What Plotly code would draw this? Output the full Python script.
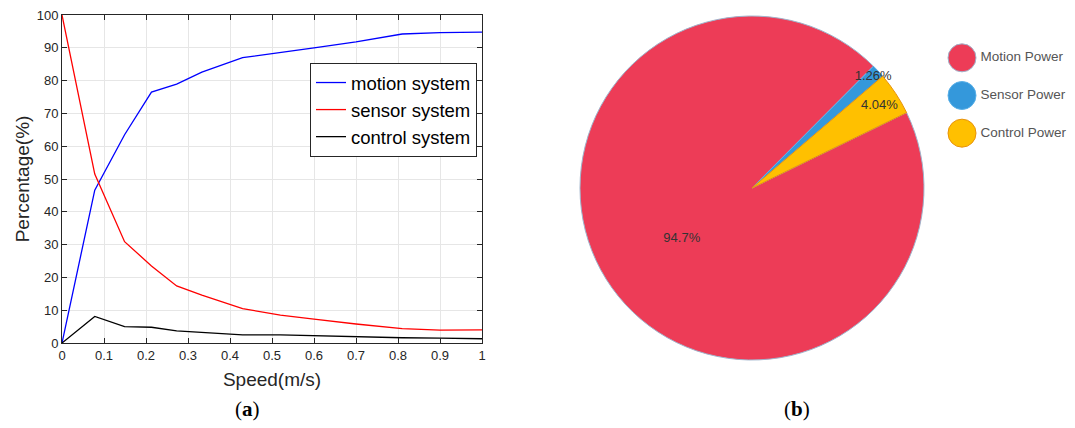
import plotly.graph_objects as go

# ---- data ----
speed = [0, 0.078, 0.149, 0.213, 0.273, 0.333, 0.43, 0.52, 0.6, 0.7, 0.81, 0.9, 1.0]
motion = [0, 46.6, 63.5, 76.5, 78.9, 82.6, 87.0, 88.5, 90.0, 91.8, 94.2, 94.6, 94.8]
sensor = [100, 51.5, 30.9, 23.5, 17.4, 14.6, 10.5, 8.5, 7.3, 5.8, 4.4, 3.9, 4.0]
control = [0, 8.1, 5.0, 4.8, 3.7, 3.2, 2.5, 2.5, 2.2, 1.9, 1.6, 1.5, 1.3]

pie_labels = ["Motion Power", "Sensor Power", "Control Power"]
pie_values = [94.7, 1.26, 4.04]
pie_colors = ["#ED3C57", "#3498DB", "#FFC000"]
pie_edges = ["#9FB4CC", "#5AB0E8", "#E8920A"]

x_ticks = [0, 0.1, 0.2, 0.3, 0.4, 0.5, 0.6, 0.7, 0.8, 0.9, 1]
x_ticktext = ["0", "0.1", "0.2", "0.3", "0.4", "0.5", "0.6", "0.7", "0.8", "0.9", "1"]
y_ticks = list(range(0, 101, 10))

W, H = 1075, 428
OFF = 8  # page body margin
def px(x):
    return (x - OFF) / W
def py(y):
    return 1 - (y - OFF) / H

fig = go.Figure()

line_font = "Liberation Sans, Arial, sans-serif"
for name, ys, col in [("motion system", motion, "#0000FF"),
                      ("sensor system", sensor, "#FF0000"),
                      ("control system", control, "#000000")]:
    fig.add_trace(go.Scatter(x=speed, y=ys, mode="lines", name=name,
                             line=dict(color=col, width=1.3),
                             xaxis="x", yaxis="y", legend="legend"))

fig.add_trace(go.Pie(labels=pie_labels, values=pie_values, sort=False,
                     direction="clockwise", rotation=64,
                     marker=dict(colors=pie_colors, line=dict(color=pie_edges, width=1)),
                     texttemplate="%{value}%",
                     textposition="inside", insidetextorientation="horizontal",
                     textfont=dict(size=13, color="#333333", family=line_font),
                     showlegend=False, hoverinfo="label+percent",
                     domain=dict(x=[px(580), px(924)], y=[py(360), py(16)])))

# custom circle legend for the pie
fig.add_trace(go.Scatter(x=[0, 0, 0], y=pie_labels, mode="markers+text",
                         text=pie_labels, textposition="middle right",
                         textfont=dict(size=13.5, color="#555555", family=line_font),
                         marker=dict(size=28, color=pie_colors,
                                     line=dict(color=pie_edges, width=1)),
                         cliponaxis=False, showlegend=False, hoverinfo="skip",
                         xaxis="x3", yaxis="y3"))

axis_common = dict(showline=True, linecolor="#262626", linewidth=1, mirror="allticks",
                   ticks="inside", ticklen=5, tickcolor="#262626", automargin=False,
                   ticklabeloverflow="allow",
                   showgrid=True, gridcolor="#E6E6E6", gridwidth=1, zeroline=False,
                   tickfont=dict(size=13, color="#262626", family=line_font))

fig.update_layout(
    width=W, height=H,
    margin=dict(l=0, r=0, t=0, b=0, autoexpand=False),
    paper_bgcolor="white", plot_bgcolor="white",
    uniformtext=dict(minsize=13, mode="show"),
    xaxis=dict(domain=[px(62), px(482)], range=[0, 1], tickvals=x_ticks, ticktext=x_ticktext,
               title=dict(text="Speed(m/s)", font=dict(size=19, color="#262626", family=line_font),
                          standoff=11),
               anchor="y", **axis_common),
    yaxis=dict(domain=[py(343), py(15)], range=[0, 100], tickvals=y_ticks,
               title=dict(text="Percentage(%)", font=dict(size=19, color="#262626", family=line_font),
                          standoff=2),
               anchor="x", **axis_common),
    xaxis3=dict(domain=[px(962), 1.0], range=[0, 1], visible=False, fixedrange=True, anchor="y3"),
    yaxis3=dict(domain=[py(152), py(39)], range=[2.5, -0.5], visible=False, fixedrange=True,
                anchor="x3", type="category"),
    legend=dict(x=px(310), y=py(63), xanchor="left", yanchor="top",
                bgcolor="white", bordercolor="#262626", borderwidth=1,
                font=dict(size=18.5, color="#000000", family=line_font),
                itemwidth=30, tracegroupgap=0),
    showlegend=True,
    annotations=[
        dict(text="(<b>a</b>)", x=px(247), y=py(409), xref="paper", yref="paper",
             xanchor="center", yanchor="middle",
             showarrow=False, font=dict(size=21, color="#000000", family="Liberation Serif, serif")),
        dict(text="(<b>b</b>)", x=px(797), y=py(409), xref="paper", yref="paper",
             xanchor="center", yanchor="middle",
             showarrow=False, font=dict(size=21, color="#000000", family="Liberation Serif, serif")),
    ],
)

fig.write_html("out.html")
